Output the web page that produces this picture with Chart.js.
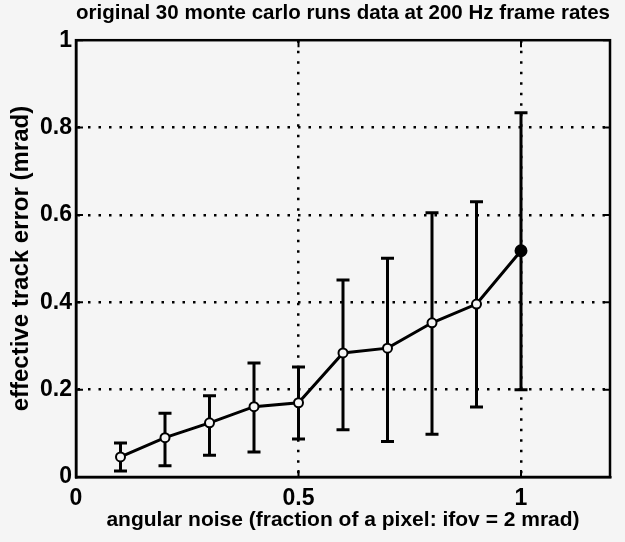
<!DOCTYPE html>
<html lang="en">
<head>
	<meta charset="UTF-8">
	<title>Track error vs angular noise</title>
	<script src="https://cdn.jsdelivr.net/npm/chart.js@4.4.1/dist/chart.umd.min.js"></script>
	<style>
		body { margin: 0; background: #f5f5f5; }
		canvas { display: block; }
	</style>
</head>
<body>
<canvas id="errChart" width="625" height="542"></canvas>

<script>

// monte carlo results (mean and spread of the 30 runs)
var noiseLevels = [0.1, 0.2, 0.3, 0.4, 0.5, 0.6, 0.7, 0.8, 0.9, 1.0];
var trackError  = [0.046, 0.090, 0.124, 0.161, 0.170, 0.284, 0.295, 0.353, 0.396, 0.518];
var errorHigh   = [0.078, 0.146, 0.186, 0.261, 0.252, 0.451, 0.501, 0.605, 0.630, 0.834];
var errorLow    = [0.014, 0.026, 0.050, 0.057, 0.087, 0.108, 0.081, 0.098, 0.160, 0.200];

var xTicks = [0, 0.5, 1];
var yTicks = [0, 0.2, 0.4, 0.6, 0.8, 1];

var fontFace = '"Liberation Sans", Arial, Helvetica, sans-serif';

// last run is drawn as a solid dot, the rest as open circles
var pointFill = noiseLevels.map(function (v, i) {
	return i === noiseLevels.length - 1 ? '#000' : '#f5f5f5';
});
var pointSize = noiseLevels.map(function (v, i) {
	return i === noiseLevels.length - 1 ? 5.5 : 4.5;
});

// dotted grid only inside the box
function gridColor(edges) {
	return function (c) {
		if (!c.tick) return '#000';
		return edges.indexOf(c.tick.value) >= 0 ? 'rgba(0,0,0,0)' : '#000';
	};
}

// vertical error bars with caps, placed through the chart scales
var errorBars = {
	id: 'errorBars',
	beforeDatasetsDraw: function (chart) {
		var ctx = chart.ctx;
		var xs = chart.scales.x, ys = chart.scales.y;
		ctx.save();
		ctx.strokeStyle = '#000';
		ctx.lineWidth = 3;
		for (var i = 0; i < noiseLevels.length; i++) {
			var px = xs.getPixelForValue(noiseLevels[i]);
			var top = ys.getPixelForValue(errorHigh[i]);
			var bot = ys.getPixelForValue(errorLow[i]);
			ctx.beginPath();
			ctx.moveTo(px, top); ctx.lineTo(px, bot);
			ctx.moveTo(px - 6.5, top); ctx.lineTo(px + 6.5, top);
			ctx.moveTo(px - 6.5, bot); ctx.lineTo(px + 6.5, bot);
			ctx.stroke();
		}
		ctx.restore();
	}
};

// closes the axes box and adds short inward tick marks
var boxFrame = {
	id: 'boxFrame',
	afterDraw: function (chart) {
		var ctx = chart.ctx, a = chart.chartArea;
		var xs = chart.scales.x, ys = chart.scales.y;
		ctx.save();
		ctx.strokeStyle = '#000';
		ctx.lineWidth = 2.5;
		ctx.strokeRect(a.left, a.top, a.right - a.left, a.bottom - a.top);
		ctx.lineWidth = 2;
		ctx.beginPath();
		xTicks.forEach(function (v) {
			var px = xs.getPixelForValue(v);
			ctx.moveTo(px, a.bottom); ctx.lineTo(px, a.bottom - 7);
			ctx.moveTo(px, a.top); ctx.lineTo(px, a.top + 7);
		});
		yTicks.forEach(function (v) {
			var py = ys.getPixelForValue(v);
			ctx.moveTo(a.left, py); ctx.lineTo(a.left + 7, py);
			ctx.moveTo(a.right, py); ctx.lineTo(a.right - 7, py);
		});
		ctx.stroke();
		ctx.restore();
	}
};

const ctx = document.getElementById('errChart').getContext('2d');
const errChart = new Chart(ctx, {
	type: 'line',
	data: {
		datasets: [{
			label: 'track error',
			data: noiseLevels.map(function (x, i) { return { x: x, y: trackError[i] }; }),
			borderColor: '#000',
			borderWidth: 3,
			tension: 0,
			pointRadius: pointSize,
			pointBorderWidth: 2,
			pointBorderColor: '#000',
			pointBackgroundColor: pointFill
		}]
	},
	options: {
		responsive: false,
		animation: false,
		layout: { padding: { left: 0, right: 15, top: 0, bottom: 0 } },
		plugins: {
			legend: { display: false },
			tooltip: { enabled: false },
			title: {
				display: true,
				fullSize: false,
				text: 'original 30 monte carlo runs data at 200 Hz frame rates',
				color: '#000',
				font: { family: fontFace, size: 21, weight: 'bold', lineHeight: 1.2 },
				padding: { top: 1, bottom: 14 }
			}
		},
		scales: {
			x: {
				type: 'linear',
				min: 0,
				max: 1.2,
				afterBuildTicks: function (s) { s.ticks = xTicks.map(function (v) { return { value: v }; }); },
				afterFit: function (s) { s.height = 65; },
				ticks: {
					color: '#000',
					padding: 8,
					maxRotation: 0,
					font: { family: fontFace, size: 23, weight: 'bold' },
					callback: function (v) { return String(v); }
				},
				grid: {
					color: gridColor([0]),
					lineWidth: 2.5,
					drawTicks: false
				},
				border: { display: true, color: '#000', width: 2.5, dash: [2.5, 8] },
				title: {
					display: true,
					text: 'angular noise (fraction of a pixel: ifov = 2 mrad)',
					color: '#000',
					font: { family: fontFace, size: 21, weight: 'bold', lineHeight: 1.2 },
					padding: { top: 0, bottom: 9 }
				}
			},
			y: {
				type: 'linear',
				min: 0,
				max: 1,
				afterBuildTicks: function (s) { s.ticks = yTicks.map(function (v) { return { value: v }; }); },
				afterFit: function (s) { s.width = 76; },
				ticks: {
					color: '#000',
					padding: 4,
					font: { family: fontFace, size: 23, weight: 'bold' },
					callback: function (v) { return String(v); }
				},
				grid: {
					color: gridColor([0, 1]),
					lineWidth: 2.5,
					drawTicks: false
				},
				border: { display: true, color: '#000', width: 2.5, dash: [2.5, 8] },
				title: {
					display: true,
					text: 'effective track error (mrad)',
					color: '#000',
					font: { family: fontFace, size: 24, weight: 'bold', lineHeight: 1.2 },
					padding: { top: 7, bottom: 0 }
				}
			}
		}
	},
	plugins: [errorBars, boxFrame]
});
</script>
</body>
</html>
